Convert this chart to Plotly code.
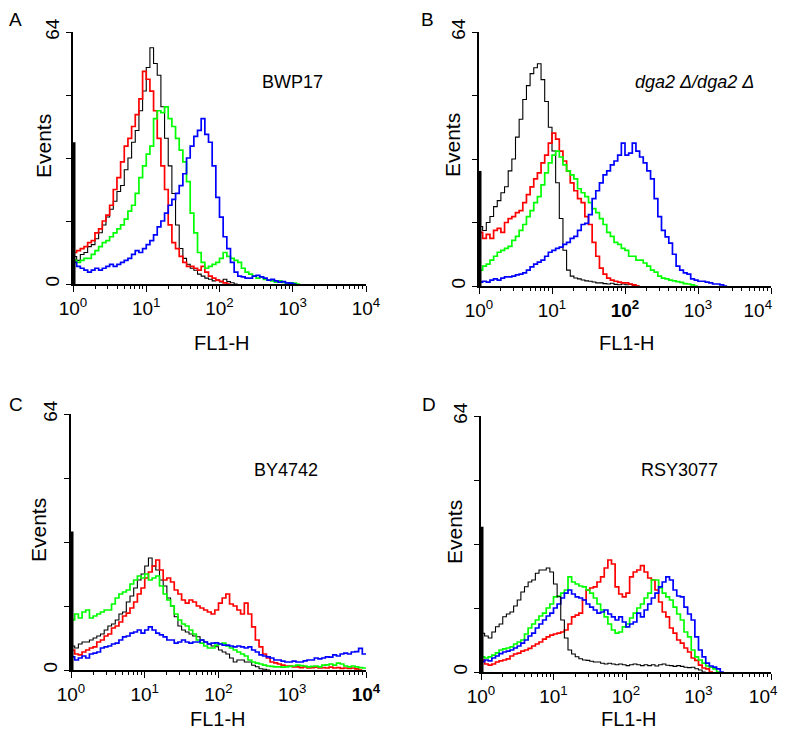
import plotly.graph_objects as go

# ---------------- data (events per FL1-H channel, 20 channels per decade) ----------------
CHANNELS_PER_DECADE = 20

A_black = [7, 6, 7.5, 8, 9.5, 10, 11.5, 13, 15, 17, 19, 21, 23.5, 25, 29, 32, 36, 39, 44, 49,
           55, 60, 56, 53, 45, 37, 30, 23, 15, 9, 6.5, 5, 4, 3.5, 2.5, 2, 1.5, 1.2, 0.8, 1,
           0.5, 1.2, 0.6, 0.3, 0]
A_red = [8, 8.5, 9, 9.5, 10.5, 11, 13, 14, 16, 17.5, 20, 24, 27, 31, 35, 37, 40, 43, 47, 54,
         52, 49, 44, 37, 30, 24, 15, 10.5, 9, 7, 5.5, 4.5, 4.5, 4, 3.5, 4.5, 3, 2, 1.5, 1,
         0.7, 0.3, 0]
A_green = [6, 5.5, 6, 6.5, 6.5, 7.5, 8.5, 9.5, 10.5, 11, 12, 13, 14, 15, 16.5, 18.5, 20, 23, 27, 30,
           33, 35, 42, 44, 43.5, 45, 42, 40, 37, 34, 31, 26, 18, 13, 8, 5.5, 4, 4.5, 5, 5.5,
           6.5, 8, 7, 6.5, 6, 5.5, 4, 3, 2.5, 2, 1.5, 1.8, 1.2, 1, 0.8, 0.5, 0.8, 0.4, 0.3, 0.3,
           0.2, 0]
A_blue = [5.5, 4.5, 4, 3.5, 3, 3.5, 4, 3.5, 4, 4.5, 5, 4.5, 5, 5.5, 6, 6.5, 7.5, 8.5, 8, 9,
          10, 11, 12.5, 14.5, 16, 18, 20, 21.5, 23, 25, 28, 32, 35, 37.5, 39, 42, 38, 36, 30, 22,
          17, 12, 9, 5.5, 3, 2, 1.8, 1.5, 1.5, 2, 2.2, 1.8, 1.5, 1, 1.2, 0.8, 0.5, 0.6, 0.3, 0.2,
          0]

B_black = [15, 14, 16, 17.5, 20, 21.5, 23.5, 25, 29, 32, 37.5, 42, 47, 50.5, 53.5, 55, 56, 52, 46.5, 40,
           34, 26, 17, 9, 4, 2.5, 2, 1.8, 1.5, 1.3, 1.2, 1, 0.8, 0.8, 0.6, 0.5, 0.7, 0.4, 0.3, 0.5,
           0.3, 0.4, 0.2, 0]
B_red = [13.5, 12, 13, 12, 14, 14.5, 13.5, 16, 17, 17.5, 18.5, 19, 21, 23, 25, 27, 28.5, 31, 33, 36,
         38.5, 37, 34, 31.5, 29, 26, 24, 22, 21, 17.5, 15.5, 11, 7.5, 4.5, 3, 2, 1.5, 1.2, 1, 0.8,
         0.8, 0.5, 0.3, 0]
B_green = [4, 5, 5.5, 6.5, 7.5, 8.5, 9, 9.5, 10, 11.5, 12.5, 14, 15.5, 17.5, 19, 21, 22.5, 25.5, 28.5, 31,
           33, 34, 32.5, 30.5, 29, 28, 27, 24.5, 23.5, 22.5, 21, 19.5, 18.5, 17, 15.5, 13.5, 12.5, 11, 10.5, 9.5,
           9, 7.5, 7.5, 6.5, 6.5, 5.8, 5, 4, 3.5, 2.5, 2, 1.8, 1.5, 1.3, 1.1, 0.9, 0.6, 0.5, 0.3, 0]
B_blue = [1, 1.2, 1, 1.5, 1.8, 1.5, 2, 2.3, 2.3, 2.5, 2.8, 3, 3.3, 4, 4.8, 5.5, 6, 6.5, 7.5, 8.5,
          9, 9.5, 9.8, 10.5, 11, 12, 12.5, 14, 15.5, 15.8, 18, 22, 24, 26, 28, 29, 30.5, 31.5, 33, 36,
          33, 33.5, 36, 34, 32.5, 31, 29, 27, 22, 17.5, 14, 12.4, 10.8, 8, 5, 4, 3.3, 3, 1.8, 1.5,
          1.2, 1.2, 1, 0.8, 0.5, 0.5, 0.3, 0]

C_black = [6, 5.5, 6.5, 7, 7, 7.5, 8, 8.5, 9, 10, 11, 11.5, 12.5, 14, 14.5, 17, 18.5, 20.5, 22.5, 24,
           26, 28, 26, 25, 22.5, 21, 18, 16, 13.3, 11, 10, 9.5, 9, 8.5, 8.3, 7.5, 7, 6.5, 6, 5.8,
           5, 4.5, 4, 3, 2, 2.5, 2.5, 2, 2, 1.2, 0.8, 0.3, 0.2, 0]
C_red = [5, 4, 3.8, 4.5, 5, 5.5, 5.8, 7, 7.5, 8.5, 9, 10.5, 11, 12, 13.5, 14.2, 15.5, 17, 19, 20.5,
         23, 24.5, 26, 27.5, 25, 22.5, 23, 22, 20, 19, 17.5, 16.7, 17.5, 17, 16, 15.5, 15, 14.5, 14, 15,
         16.7, 18, 19, 16.5, 16, 15, 14, 16.7, 14, 10.8, 7.5, 5.8, 4, 3, 2, 1.8, 1.5, 1.2, 1, 1,
         0.8, 0.8, 0.6, 0.8, 0.5, 0.6, 0.7, 0.5, 0.6, 0.5, 0.7, 0.5, 0.6, 0.4, 0.5, 0.4, 0.5, 0.3, 0]
C_green = [12.5, 14, 13, 14.5, 15, 13, 13.5, 14, 14.5, 15, 15, 16.5, 18, 19, 19.5, 20, 21.5, 22.5, 23.5, 23,
           24, 22.5, 23, 23.5, 21, 19, 17.5, 16, 14, 12.5, 11.5, 11, 10, 9, 7.5, 6.7, 6, 5.5, 5.5, 6.2,
           6.5, 6.7, 6, 5.5, 5, 4.5, 4, 3.5, 2.5, 2, 1.7, 1.5, 1.2, 1, 0.9, 0.8, 0.8, 0.7, 0.8, 0.9,
           1, 1.2, 1.1, 1, 0.8, 0.9, 1, 0.8, 1.2, 1.3, 1.5, 1.2, 1.7, 1.5, 1, 0.8, 1, 0.8, 0.6, 0.5]
C_blue = [3.3, 2.5, 3, 3.5, 3, 4, 4.2, 4.5, 5.5, 5.8, 6, 6.5, 6.7, 7.5, 8.3, 8.5, 9.2, 9.5, 10, 9.2,
          10, 10.8, 10, 9.2, 8.8, 8.3, 7.5, 7.5, 6.7, 7, 7.5, 7, 6.7, 7, 7, 7.5, 7, 6.5, 6.7, 6.8,
          6.5, 6.2, 6.2, 6, 5.8, 6, 5.8, 5.5, 5.8, 5, 4.5, 3.8, 3.5, 3.3, 3, 2.5, 2.5, 2.2, 2, 2,
          2.2, 2, 2, 2.3, 2.5, 2.5, 3, 2.8, 3, 3.3, 3.2, 3.8, 3.5, 4, 4.2, 4, 4.5, 4.6, 5.4, 4]

D_black = [9.7, 9, 8.5, 10, 11.3, 12, 13.8, 14.5, 15, 16.5, 18, 20, 21.3, 22.5, 23, 24.7, 25.5, 25.5, 26, 25,
           22, 18.8, 13, 8.5, 5.5, 4.5, 3.8, 3.3, 3, 2.9, 2.7, 2.5, 2.5, 2.2, 2, 2.2, 2, 1.8, 2, 1.8,
           1.6, 1.8, 2, 1.8, 1.6, 1.8, 1.6, 1.8, 1.5, 1.8, 2, 1.7, 1.6, 1.4, 1.6, 1.4, 1.2, 1.1, 1.2, 0.8,
           0.5, 0]
D_red = [3, 2, 1.7, 2, 2.5, 2.8, 3, 3.3, 4, 4.5, 4.7, 5.2, 5.5, 5.9, 6.5, 7, 7.5, 8.2, 8.8, 9.2,
         9.5, 9.7, 10, 10.5, 12, 13.8, 14.2, 14.7, 18, 20.5, 21, 21.3, 22.5, 23.8, 26, 28, 27, 21.3, 19.5, 18.8,
         19.7, 23.8, 25, 25.5, 26.6, 25, 23.5, 23, 20.5, 17.5, 15, 13.8, 11, 9.7, 8, 7.2, 6, 5, 3.5, 2.9,
         1.7, 1, 0.8, 0]
D_green = [3.8, 3.5, 3.8, 4.2, 4.8, 5.5, 5.8, 6, 6.3, 7, 7.5, 8, 9.5, 11, 12, 13, 14, 14.7, 16, 17,
           18.8, 19, 19.7, 20.5, 23.8, 22.5, 22, 21.5, 21.3, 20.5, 19.7, 18.5, 17, 15.5, 13.8, 12, 10.5, 9.7, 10, 11.3,
           12, 13.5, 14.7, 16, 17, 18.5, 19.7, 23, 23, 21, 19.7, 18.8, 18, 16.2, 14.5, 13, 10, 8.8, 5.5, 3.8,
           3, 2.2, 1.5, 1.2, 0.8, 0]
D_blue = [2.6, 3, 2.8, 3.5, 4, 4.6, 5, 5.2, 5.5, 6, 6.5, 7.2, 8, 9, 9.7, 11, 12, 13, 14, 14.7,
          16, 17, 18.5, 19.7, 20.5, 19.5, 18.8, 18.5, 18, 17, 16.2, 15.5, 14.7, 15, 15.5, 14.5, 13.8, 13, 13.8, 12.5,
          11.3, 12, 12.5, 14.7, 13.8, 15.5, 17, 18.5, 19.7, 21.3, 22.5, 23.8, 23, 20.5, 19, 18.8, 16.2, 14.5, 13, 8.8,
          5.5, 3.8, 2.2, 1.5, 1.2, 0.8, 0]

# first-channel pile-up (events in channel 1)
first_channel = {"A": 36, "B": 29, "C": 34.6, "D": 36.3}

panel_series = {
    "A": [("black", A_black), ("red", A_red), ("green", A_green), ("blue", A_blue)],
    "B": [("black", B_black), ("red", B_red), ("green", B_green), ("blue", B_blue)],
    "C": [("black", C_black), ("red", C_red), ("green", C_green), ("blue", C_blue)],
    "D": [("red", D_red), ("green", D_green), ("blue", D_blue), ("black", D_black)],
}
strain_labels = {"A": "BWP17", "B": "<i>dga2 Δ/dga2 Δ</i>", "C": "BY4742", "D": "RSY3077"}

NB = "&nbsp;"
x_tick_vals = [1, 10, 100, 1000, 10000]
x_tick_text = {
    "A": ["10<sup>0</sup>", "10<sup>1</sup>", "10<sup>2</sup>", "10<sup>3</sup>", "10<sup>4</sup>"],
    "B": ["10<sup>0</sup>", "10<sup>1</sup>", "<b>10<sup>2</sup></b>", "10<sup>3</sup>",
          "10<sup>4</sup>" + NB * 5],
    "C": ["10<sup>0</sup>", "10<sup>1</sup>", "10<sup>2</sup>", "10<sup>3</sup>", "<b>10<sup>4</sup></b>"],
    "D": ["10<sup>0</sup>", "10<sup>1</sup>", "10<sup>2</sup>", "10<sup>3</sup>",
          "10<sup>4</sup>" + NB * 3],
}
y_tick_vals = [0, 16, 32, 48, 64]
y_tick_text = ["0", "", "", "", "64"]

COLORS = {"black": "#000000", "red": "#ff0000", "green": "#00ff00", "blue": "#0000ff"}
WIDTHS = {"black": 1.1, "red": 1.7, "green": 1.7, "blue": 1.7}

# ---------------- layout geometry (page pixels of the 787x737 window) ----------------
PAGE_INSET = 8            # default body margin of the html page
W, H = 787 - 2 * PAGE_INSET, 737 - 2 * PAGE_INSET
geom = {  # x0, x1, ytop, ybottom
    "A": (73, 366, 32, 284),
    "B": (479, 771, 32, 286),
    "C": (71, 366, 414, 670),
    "D": (481, 771, 416, 672),
}
# label centres (px): strain label, "Events", "FL1-H"
label_pos = {
    "A": dict(strain=(292, 82), ytitle=(43, 146), xtitle=(222, 343)),
    "B": dict(strain=(694, 82), ytitle=(452, 145), xtitle=(627, 343)),
    "C": dict(strain=(286, 470), ytitle=(38, 530), xtitle=(218, 719)),
    "D": dict(strain=(679, 470), ytitle=(454, 532), xtitle=(629, 719)),
}
# panel letters: (left x, y, y-anchor)
letter_pos = {"A": (8, 8, "top"), "B": (420, 8, "top"), "C": (8, 404, "middle"), "D": (421, 404, "middle")}
FONT = "Liberation Sans, Arial, Helvetica, sans-serif"


def px(x):
    return (x - PAGE_INSET) / W


def py(y):
    return 1 - (y - PAGE_INSET) / H


def channel_edges(n):
    return [10 ** (k / CHANNELS_PER_DECADE) for k in range(n + 1)]


fig = go.Figure()
layout = dict(
    width=W, height=H, margin=dict(l=0, r=0, t=0, b=0, autoexpand=False),
    paper_bgcolor="white", plot_bgcolor="white", showlegend=False,
    font=dict(family=FONT, color="black"),
)
annotations = []
minor_vals = [m * 10 ** d for d in range(4) for m in range(2, 10)]


def ann(text, pos, size, angle=0, xanchor="center", yanchor="middle"):
    return dict(text=text, x=px(pos[0]), y=py(pos[1]), xref="paper", yref="paper",
                showarrow=False, xanchor=xanchor, yanchor=yanchor, textangle=angle,
                borderpad=0, font=dict(size=size, family=FONT, color="black"))


for i, key in enumerate(["A", "B", "C", "D"]):
    n = i + 1
    xa = "x" if n == 1 else f"x{n}"
    ya = "y" if n == 1 else f"y{n}"
    x0, x1, yt, yb = geom[key]

    for color, vals in panel_series[key]:
        xs = channel_edges(len(vals))
        ys = list(vals) + [vals[-1]]
        fig.add_trace(go.Scatter(
            x=xs, y=ys, mode="lines", xaxis=xa, yaxis=ya,
            line=dict(color=COLORS[color], width=WIDTHS[color], shape="hv"),
            hoverinfo="skip"))
    e0 = channel_edges(0)[0]
    fig.add_trace(go.Scatter(
        x=[e0, e0], y=[0, first_channel[key]], mode="lines", xaxis=xa, yaxis=ya,
        line=dict(color="black", width=5), hoverinfo="skip"))

    layout["xaxis" if n == 1 else f"xaxis{n}"] = dict(
        domain=[px(x0), px(x1)], anchor=ya, type="log", range=[0, 4], automargin=False,
        showline=True, linecolor="black", linewidth=1.5, mirror=False,
        showgrid=False, zeroline=False, ticklabeloverflow="allow",
        ticks="outside", ticklen=6, tickwidth=1.2, tickcolor="black",
        tickmode="array", tickvals=x_tick_vals, ticktext=x_tick_text[key],
        tickfont=dict(size=19, family=FONT, color="black"),
        minor=dict(tickmode="array", tickvals=minor_vals, ticks="outside",
                   ticklen=3, tickwidth=1, tickcolor="black", showgrid=False),
    )
    layout["yaxis" if n == 1 else f"yaxis{n}"] = dict(
        domain=[py(yb), py(yt)], anchor=xa, range=[0, 64], automargin=False,
        showline=True, linecolor="black", linewidth=1.5,
        showgrid=False, zeroline=False,
        ticks="outside", ticklen=5, tickwidth=1.2, tickcolor="black",
        tickmode="array", tickvals=y_tick_vals, ticktext=y_tick_text, tickangle=-90,
        tickfont=dict(size=19, family=FONT, color="black"),
    )

    lp = label_pos[key]
    lx, ly, lya = letter_pos[key]
    annotations.append(ann(key, (lx, ly), 19, xanchor="left", yanchor=lya))
    annotations.append(ann(strain_labels[key], lp["strain"], 18))
    annotations.append(ann("Events", lp["ytitle"], 21, -90))
    annotations.append(ann("FL1-H", lp["xtitle"], 20))

layout["annotations"] = annotations
fig.update_layout(**layout)
fig.write_html("out.html")
